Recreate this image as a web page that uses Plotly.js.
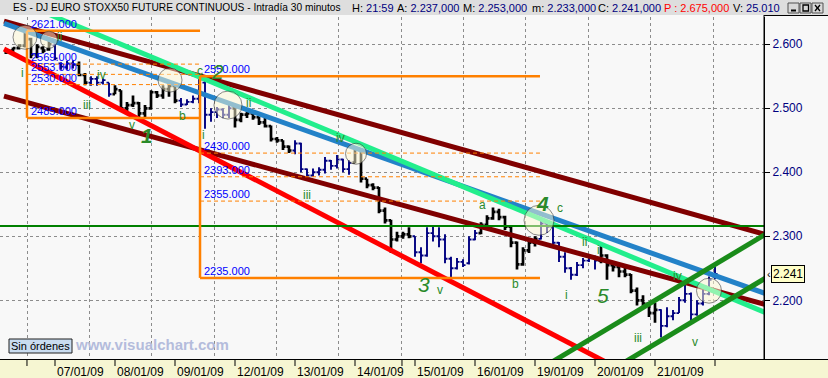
<!DOCTYPE html>
<html><head><meta charset="utf-8">
<script src="https://cdn.plot.ly/plotly-3.0.1.min.js"></script>
<style>html,body{margin:0;padding:0;background:#f8f8f8;}#chart{width:828px;height:378px;}</style>
</head><body><div id="chart"></div>
<script>
// ---------------- DATA ----------------
// 30-minute bars (every other bar kept), 06/01/09 .. 21/01/09
const barOpen  = [2587,2590,2594,2598,2608,2584,2594,2592,2598,2570,2564,2570,2568,2552,2540,2546,2540,2540,2522,2528,
                  2500,2505,2508,2492,2500,2525,2520,2530,2535,2512,2506,2510,2515,2540,2490,2494,2498,2490,2500,2482,
                  2490,2492,2486,2478,2472,2452,2450,2440,2434,2445,2405,2395,2400,2404,2418,2410,2420,2405,2415,2436,
                  2390,2380,2376,2340,2325,2295,2300,2303,2300,2275,2270,2305,2300,2295,2265,2250,2260,2258,2295,2305,
                  2318,2328,2338,2330,2315,2290,2256,2278,2290,2296,2320,2315,2290,2268,2250,2240,2255,2262,2266,2262,
                  2270,2255,2252,2245,2240,2215,2200,2195,2180,2185,2160,2175,2180,2200,2210,2178,2195,2210,2237];
const barHigh  = [2592,2595,2600,2621,2610,2600,2597,2607,2601,2572,2574,2575,2573,2555,2550,2550,2547,2540,2536,2528,
                  2510,2520,2510,2505,2528,2527,2536,2544,2535,2516,2514,2520,2550,2545,2500,2502,2500,2508,2500,2493,
                  2495,2494,2487,2485,2473,2455,2450,2442,2450,2446,2406,2406,2408,2424,2419,2427,2421,2419,2440,2437,
                  2390,2383,2377,2345,2326,2307,2307,2314,2300,2283,2314,2316,2314,2303,2268,2266,2264,2300,2310,2322,
                  2333,2345,2343,2332,2316,2292,2283,2294,2300,2328,2325,2320,2291,2275,2252,2260,2266,2270,2270,2285,
                  2272,2260,2258,2256,2241,2220,2208,2196,2196,2186,2189,2185,2205,2227,2212,2200,2216,2237,2253];
const barLow   = [2585,2587,2592,2595,2578,2578,2586,2590,2575,2560,2560,2562,2550,2536,2535,2535,2537,2518,2522,2495,
                  2492,2502,2486,2486,2498,2516,2515,2518,2508,2502,2505,2508,2508,2468,2479,2485,2485,2485,2470,2478,
                  2485,2482,2474,2470,2448,2446,2435,2430,2428,2400,2388,2393,2395,2398,2404,2406,2400,2396,2414,2384,
                  2375,2372,2336,2320,2274,2292,2296,2297,2268,2258,2268,2292,2283,2258,2235,2248,2252,2256,2294,2303,
                  2314,2326,2325,2310,2283,2248,2254,2274,2284,2295,2305,2285,2260,2243,2232,2238,2250,2260,2248,2258,
                  2232,2245,2236,2236,2211,2192,2190,2174,2165,2142,2158,2169,2180,2196,2166,2176,2192,2208,2233];
const barClose = [2590,2594,2598,2610,2584,2596,2590,2600,2578,2565,2570,2568,2552,2540,2546,2540,2544,2522,2530,2500,
                  2505,2508,2492,2500,2525,2520,2530,2535,2512,2506,2510,2515,2545,2490,2494,2498,2490,2500,2482,2490,
                  2492,2486,2478,2472,2452,2450,2440,2434,2445,2405,2395,2400,2404,2418,2410,2420,2405,2415,2436,2390,
                  2380,2376,2340,2325,2295,2300,2303,2300,2275,2270,2305,2300,2295,2265,2250,2260,2255,2295,2305,2318,
                  2328,2338,2330,2315,2290,2256,2278,2290,2296,2320,2315,2290,2268,2250,2240,2255,2262,2266,2262,2270,
                  2255,2252,2245,2240,2215,2200,2195,2180,2185,2160,2175,2180,2200,2210,2178,2195,2210,2232,2241];
// colour group of each bar: k = black, n = navy
const barGroup = "kkkkkkkknnnnkknnnnkkkkkkkkkkknnnnnnnnnkkkkkkkkkknnnnnnnnnnkkkkkkkkkknnnnnnnnnnnkkkkkkkkkknnnnnnnnnnkkkkkkkkkknnnnnnnnnn";

const dateLabels = ["07/01/09","08/01/09","09/01/09","12/01/09","13/01/09","14/01/09","15/01/09","16/01/09","19/01/09","20/01/09","21/01/09"];
const yTickVals = [2200,2300,2400,2500,2600];
const yTickText = ["2.200","2.300","2.400","2.500","2.600"];

// trend lines: [day, price] end points
const maroonUpperX = [0.15, 13],  maroonUpperY = [2636.2, 2298.7];
const maroonLowerX = [0.15, 13],  maroonLowerY = [2519.0, 2189.4];
const redX = [0.15, 11],          redY = [2592.6, 2063.6];
const blueX = [0.15, 13],         blueY = [2632.6, 2205.3];
const springX = [0.5, 13],        springY = [2662.4, 2174.6];
const chanUpX = [9.2, 13],        chanUpY = [2098.9, 2312.1];
const chanLoX = [10.4, 13],       chanLoY = [2098.1, 2243.6];
const supportLevel = 2316;

// Fibonacci boxes
const box1Top = 2621, box1Bottom = 2485, box1Start = 0.533, box1End = 3.417;
const box1Fibs = [2569, 2553, 2537];
const box1Labels = ["2621.000","2569.000","2553.000","2530.000","2485.000"];
const box1LabelPrices = [2621, 2569, 2553, 2537, 2485];
const box2Top = 2550, box2Bottom = 2235, box2Start = 3.417, box2End = 9.083;
const box2Fibs = [2430, 2393, 2355];
const box2Labels = ["2550.000","2430.000","2393.000","2355.000","2235.000"];
const box2LabelPrices = [2550, 2430, 2393, 2355, 2235];

// circles at turning points
const circleX = [0.5, 0.9, 2.917, 3.883, 6.017, 9.067, 11.9];
const circleY = [2611, 2607, 2544, 2505, 2429, 2325, 2215];
const circleSize = [24, 17, 24, 28, 21, 30, 25];

// Elliott wave labels
const waveText = ["i","ii","iii","iv","v","b","c","i","ii","iii","iv","v","a","b","c","i","ii","i","iii","iv","v"];
const waveX    = [0.45,1.083,1.533,1.783,2.283,3.117,3.417,3.467,4.217,5.2,5.75,7.417,8.117,8.683,9.417,9.533,9.833,10.05,10.717,11.383,11.667];
const waveY    = [2555,2611,2505,2552,2474,2488,2558,2458,2508,2364,2454,2216,2349,2225,2344,2208,2291,2279,2141,2238,2135];
const degreeText = ["1","2","3","4","5"];
const degreeX    = [2.533,3.7,7.15,9.117,10.133];
const degreeY    = [2458,2557,2224,2352,2208];

const lastPrice = 2241;

// ---------------- DRAWING ----------------
const FONT = "Liberation Sans, Arial, sans-serif";
const W=828, H=378, MR=64, MT=17, MB=19;
const PW = W-MR, PH = H-MT-MB;
const px = v => v/PW;
const py = v => (H-MB-v)/PH;
const barX = barOpen.map((_, i) => Math.round((0.2 + 0.1*i)*1000)/1000);

const traces = [];
function addLine(x, y, color, width, dash){
  traces.push({type:'scatter', mode:'lines', x:x, y:y, line:{color:color, width:width, dash:dash||'solid'},
               hoverinfo:'skip', showlegend:false});
}
addLine(maroonUpperX, maroonUpperY, '#800000', 5);
addLine(maroonLowerX, maroonLowerY, '#800000', 5);
addLine(redX, redY, '#ff0000', 5);
addLine(blueX, blueY, '#2382c8', 5);
addLine(springX, springY, '#22ee8c', 5);
addLine(chanUpX, chanUpY, '#1a8c1a', 5);
addLine(chanLoX, chanLoY, '#1a8c1a', 5);
addLine([0, 13], [supportLevel, supportLevel], '#008000', 2);
// box 1
const OR = '#ff8000';
addLine([box1Start, box1End], [box1Top, box1Top], OR, 2.5);
addLine([box1Start, box1End], [box1Bottom, box1Bottom], OR, 2.5);
addLine([box1Start, box1Start], [box1Top, box1Bottom], OR, 2.5);
box1Fibs.forEach(f => addLine([box1Start, box1End], [f, f], OR, 1, '4px,3px'));
// box 2
addLine([box2Start, box2End], [box2Top, box2Top], OR, 2.5);
addLine([box2Start, box2End], [box2Bottom, box2Bottom], OR, 2.5);
addLine([box2Start, box2Start], [box2Top, box2Bottom], OR, 2.5);
box2Fibs.forEach(f => addLine([box2Start, box2End], [f, f], OR, 1, '4px,3px'));

function ohlcGroup(flag, color, width){
  const x=[], o=[], h=[], l=[], c=[];
  for (let i=0;i<barOpen.length;i++){
    if (barGroup[i]===flag){ x.push(barX[i]); o.push(barOpen[i]); h.push(barHigh[i]); l.push(barLow[i]); c.push(barClose[i]); }
  }
  return {type:'ohlc', x:x, open:o, high:h, low:l, close:c, tickwidth:0.42,
          increasing:{line:{color:color, width:width}}, decreasing:{line:{color:color, width:width}},
          hoverinfo:'skip', showlegend:false};
}
traces.push(ohlcGroup('k', '#000000', 2.7));
traces.push(ohlcGroup('n', '#000080', 1.9));

traces.push({type:'scatter', mode:'markers', x:circleX, y:circleY,
  marker:{size:circleSize, color:'rgba(255,250,212,0.72)', line:{color:'#303030', width:0.8}},
  hoverinfo:'skip', showlegend:false});

const shapes = [];
const annotations = [];
// title bar
shapes.push({type:'rect', xref:'paper', yref:'paper', x0:0, x1:px(W), y0:py(15), y1:py(0), fillcolor:'#dedede', line:{width:0}, layer:'below'});
// bottom strip
shapes.push({type:'rect', xref:'paper', yref:'paper', x0:0, x1:px(W), y0:py(378), y1:py(360), fillcolor:'#f6f6d2', line:{width:0}, layer:'below'});
// axis lines
shapes.push({type:'line', xref:'paper', yref:'paper', x0:0, x1:px(W), y0:py(359.5), y1:py(359.5), line:{color:'#000', width:1}});
shapes.push({type:'line', xref:'paper', yref:'paper', x0:px(764), x1:px(764), y0:py(359.5), y1:py(15), line:{color:'#000', width:1}});
shapes.push({type:'line', xref:'paper', yref:'paper', x0:px(764), x1:px(W), y0:py(15.5), y1:py(15.5), line:{color:'#000', width:1}});
// window buttons
[[788,799],[800,811],[812,823]].forEach(b => shapes.push({type:'rect', xref:'paper', yref:'paper', x0:px(b[0]), x1:px(b[1]), y0:py(13), y1:py(3), fillcolor:'#d8d8d8', line:{color:'#505050', width:1}}));
shapes.push({type:'line', xref:'paper', yref:'paper', x0:px(791), x1:px(796), y0:py(10.5), y1:py(10.5), line:{color:'#000', width:2}});
shapes.push({type:'rect', xref:'paper', yref:'paper', x0:px(803), x1:px(808.5), y0:py(11), y1:py(5), line:{color:'#000', width:1.3}});
shapes.push({type:'line', xref:'paper', yref:'paper', x0:px(815), x1:px(820), y0:py(5), y1:py(11), line:{color:'#000', width:1.3}});
shapes.push({type:'line', xref:'paper', yref:'paper', x0:px(815), x1:px(820), y0:py(11), y1:py(5), line:{color:'#000', width:1.3}});
// date ticks
const tickDays = dateLabels.map((_, i) => i+1).concat([12, 0.533, 6.783]);
tickDays.forEach(d => shapes.push({type:'line', xref:'x', yref:'paper', x0:d, x1:d, y0:py(360), y1:py(366), line:{color:'#000', width:1}}));
dateLabels.forEach((t, i) => annotations.push({xref:'x', yref:'paper', x:i+1, y:py(372), xanchor:'left', yanchor:'middle', xshift:0,
  text:t, showarrow:false, font:{family:FONT, size:12, color:'#000'}}));
// "Sin órdenes" box + watermark
shapes.push({type:'rect', xref:'paper', yref:'paper', x0:px(9), x1:px(72), y0:py(353), y1:py(339), fillcolor:'#c9dcf0', line:{color:'#202020', width:1}});
annotations.push({xref:'paper', yref:'paper', x:px(40.5), y:py(346), xanchor:'center', yanchor:'middle', text:'Sin órdenes', showarrow:false, font:{family:FONT, size:11, color:'#000'}});
annotations.push({xref:'paper', yref:'paper', x:px(73), y:py(344), xanchor:'left', yanchor:'middle', text:'<b>www.visualchart.com</b>', showarrow:false, font:{family:FONT, size:15, color:'#b4bcdc'}});
// title texts
const NAV = '#000080';
const titleParts = [
  [13, 'ES - DJ EURO STOXX50 FUTURE CONTINUOUS - Intradía 30 minutos', 10.2],
  [352, 'H: <span style="color:'+NAV+'">21:59</span>', 11],
  [397, 'A: <span style="color:'+NAV+'">2.237,000</span>', 11],
  [463, 'M: <span style="color:'+NAV+'">2.253,000</span>', 11],
  [532, 'm: <span style="color:'+NAV+'">2.233,000</span>', 11],
  [598, 'C: <span style="color:'+NAV+'">2.241,000</span>', 11],
  [664, '<span style="color:#ff0000">P : 2.675,000</span>', 11],
  [733, 'V: <span style="color:'+NAV+'">25.010</span>', 11]
];
titleParts.forEach(p => annotations.push({xref:'paper', yref:'paper', x:px(p[0]-2), y:py(8), xanchor:'left', yanchor:'middle',
  text:p[1], showarrow:false, font:{family:FONT, size:p[2], color:'#000'}}));
// level labels
function levelLabel(d, price, text){
  annotations.push({xref:'x', yref:'y', x:d, y:price, xanchor:'left', yanchor:'bottom', xshift:2, yshift:-1,
    text:text, showarrow:false, font:{family:FONT, size:11, color:'#0000ff'}});
}
box1Labels.forEach((t, i) => levelLabel(box1Start, box1LabelPrices[i], t));
box2Labels.forEach((t, i) => levelLabel(box2Start, box2LabelPrices[i], t));
levelLabel(0, supportLevel, '2316.000');
// wave labels
waveText.forEach((t, i) => annotations.push({xref:'x', yref:'y', x:waveX[i], y:waveY[i], xanchor:'center', yanchor:'middle',
  text:t, showarrow:false, font:{family:FONT, size:12, color:'#2a8a2a'}}));
degreeText.forEach((t, i) => {
  const bold = (t === '1' || t === '4');
  annotations.push({xref:'x', yref:'y', x:degreeX[i], y:degreeY[i], xanchor:'center', yanchor:'middle',
    text: bold ? '<b><i>'+t+'</i></b>' : '<i>'+t+'</i>', showarrow:false, font:{family:FONT, size:21, color:'#2a8a2a'}});
});
// last price tag
annotations.push({xref:'paper', yref:'y', x:px(771), y:lastPrice, xanchor:'left', yanchor:'middle', text:'2.241',
  showarrow:false, bgcolor:'#ffffc8', bordercolor:'#000', borderwidth:1, borderpad:1, font:{family:FONT, size:12, color:'#000'}});
annotations.push({xref:'paper', yref:'y', x:px(765), y:lastPrice, xanchor:'left', yanchor:'middle', text:'‹',
  showarrow:false, font:{family:FONT, size:11, color:'#000'}});

const layout = {
  width:W, height:H, margin:{l:0, r:MR, t:MT, b:MB, pad:0},
  paper_bgcolor:'#f8f8f8', plot_bgcolor:'#f8f8f8', showlegend:false, hovermode:false,
  xaxis:{range:[0.0833, 12.8167], showgrid:true, gridcolor:'#8c8c8c', griddash:'dot', gridwidth:1,
         tickmode:'linear', tick0:0.5333, dtick:1.0394, showticklabels:false, ticks:'', zeroline:false, showline:false,
         rangeslider:{visible:false}, fixedrange:true},
  yaxis:{side:'right', range:[2108.3, 2642.6], tickmode:'array', tickvals:yTickVals, ticktext:yTickText,
         ticks:'outside', ticklen:5, tickcolor:'#000', showline:true, linecolor:'#000', linewidth:1,
         showgrid:true, gridcolor:'#8c8c8c', griddash:'dot', zeroline:false,
         tickfont:{family:FONT, size:12, color:'#000080'}, fixedrange:true},
  shapes:shapes, annotations:annotations
};
Plotly.newPlot('chart', traces, layout, {staticPlot:true, displayModeBar:false});
</script></body></html>
